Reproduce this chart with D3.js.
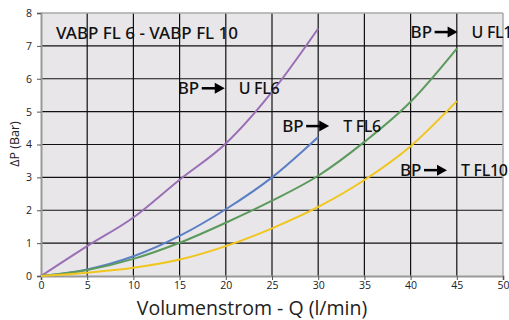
<!DOCTYPE html>
<html>
<head>
<meta charset="utf-8">
<script src="https://cdn.jsdelivr.net/npm/d3@7"></script>
<style>
body { margin: 0; background: #fff; }
svg { display: block; }
</style>
</head>
<body>
<svg></svg>
<script>
var width = 509, height = 320;

// flow rates (l/min) and pressure drops (bar)
var qShort = [0, 5, 10, 15, 20, 25, 30];
var qLong = [0, 5, 10, 15, 20, 25, 30, 35, 40, 45];
var uFL6 = [0, 0.91, 1.78, 2.93, 4.03, 5.6, 7.53];
var tFL6 = [0, 0.2, 0.6, 1.22, 2.03, 3.0, 4.23];
var uFL10 = [0, 0.18, 0.52, 1.01, 1.62, 2.29, 3.05, 4.08, 5.3, 6.92];
var tFL10 = [0, 0.1, 0.25, 0.5, 0.91, 1.45, 2.1, 2.92, 3.95, 5.32];

var xTicks = [0, 5, 10, 15, 20, 25, 30, 35, 40, 45, 50];
var yTicks = [0, 1, 2, 3, 4, 5, 6, 7, 8];

var series = [
  { q: qShort, p: uFL6, color: "#9a6fb6" },
  { q: qShort, p: tFL6, color: "#5a7fc6" },
  { q: qLong, p: uFL10, color: "#5b9a5c" },
  { q: qLong, p: tFL10, color: "#f1c61c" }
];

// label: [Q, P] where "BP" starts, target text
var labels = [
  { q: 14.8, p: 5.71, to: "U FL6" },
  { q: 26.1, p: 4.56, to: "T FL6" },
  { q: 40.0, p: 7.42, to: "U FL10" },
  { q: 38.85, p: 3.22, to: "T FL10" }
];

var svg = d3.select("svg").attr("width", width).attr("height", height);

var x = d3.scaleLinear().domain([0, 50]).range([41, 503]);
var y = d3.scaleLinear().domain([0, 8]).range([276, 13]);

// plot background
svg.append("rect")
  .attr("x", x(0)).attr("y", y(8))
  .attr("width", x(50) - x(0)).attr("height", y(0) - y(8))
  .attr("fill", "#e8e6e8");

// grid
svg.append("g").selectAll("line").data(xTicks.slice(1, -1)).enter().append("line")
  .attr("x1", d => x(d)).attr("x2", d => x(d))
  .attr("y1", y(8)).attr("y2", y(0))
  .attr("stroke", "#111").attr("stroke-width", 1.2);
svg.append("g").selectAll("line").data(yTicks.slice(1, -1)).enter().append("line")
  .attr("x1", x(0)).attr("x2", x(50))
  .attr("y1", d => y(d)).attr("y2", d => y(d))
  .attr("stroke", "#111").attr("stroke-width", 1.2);

// borders
svg.append("line").attr("x1", x(0)).attr("x2", x(50)).attr("y1", y(8)).attr("y2", y(8))
  .attr("stroke", "#aaa").attr("stroke-width", 1.5);
svg.append("line").attr("x1", x(50)).attr("x2", x(50)).attr("y1", y(8)).attr("y2", y(0))
  .attr("stroke", "#aaa").attr("stroke-width", 1.5);

// axes
var xAxis = svg.append("g").attr("transform", "translate(0," + y(0) + ")")
  .call(d3.axisBottom(x).tickValues(xTicks).tickSize(4).tickPadding(2));
var yAxis = svg.append("g").attr("transform", "translate(" + x(0) + ",0)")
  .call(d3.axisLeft(y).tickValues(yTicks).tickSize(4).tickPadding(5));
[xAxis, yAxis].forEach(a => {
  a.select(".domain").attr("stroke", "#999").attr("stroke-width", 2);
  a.selectAll(".tick line").attr("stroke", "#555");
  a.selectAll(".tick text").attr("fill", "#222")
    .style("font-family", "'Open Sans', sans-serif").style("font-size", "10.5px");
});

// curves
var line = d3.line().curve(d3.curveMonotoneX);
series.forEach(s => {
  svg.append("path")
    .attr("d", line(s.q.map((q, i) => [x(q), y(s.p[i])])))
    .attr("fill", "none")
    .attr("stroke", s.color)
    .attr("stroke-width", 2);
});

var labelFont = "'Noto Sans', sans-serif";

svg.append("text")
  .attr("x", 56).attr("y", 39)
  .style("font-family", labelFont).style("font-size", "17px").style("font-weight", 500)
  .attr("fill", "#111")
  .text("VABP FL 6 - VABP FL 10");

labels.forEach(l => {
  var bx = x(l.q), by = y(l.p);
  var g = svg.append("g").attr("transform", "translate(" + bx + "," + by + ")");
  g.append("text").attr("x", 0).attr("y", 6)
    .style("font-family", labelFont).style("font-size", "17px").style("font-weight", 500)
    .attr("fill", "#111").text("BP");
  g.append("line").attr("x1", 24).attr("x2", 38).attr("y1", 0).attr("y2", 0)
    .attr("stroke", "#000").attr("stroke-width", 2.5);
  g.append("path").attr("d", "M37,-5.5L47,0L37,5.5Z").attr("fill", "#000");
  g.append("text").attr("x", 61).attr("y", 6)
    .style("font-family", labelFont).style("font-size", "16px").style("font-weight", 500)
    .style("letter-spacing", "-0.3px")
    .attr("fill", "#111").text(l.to);
});

// axis titles
svg.append("text")
  .attr("x", 252).attr("y", 315)
  .attr("text-anchor", "middle")
  .style("font-family", "'Open Sans', sans-serif").style("font-size", "19.5px")
  .attr("fill", "#222")
  .text("Volumenstrom - Q (l/min)");

svg.append("text")
  .attr("transform", "translate(19,144)rotate(-90)")
  .attr("text-anchor", "middle")
  .style("font-family", "'Open Sans', sans-serif").style("font-size", "12.5px")
  .attr("fill", "#222")
  .text("ΔP (Bar)");
</script>
</body>
</html>
